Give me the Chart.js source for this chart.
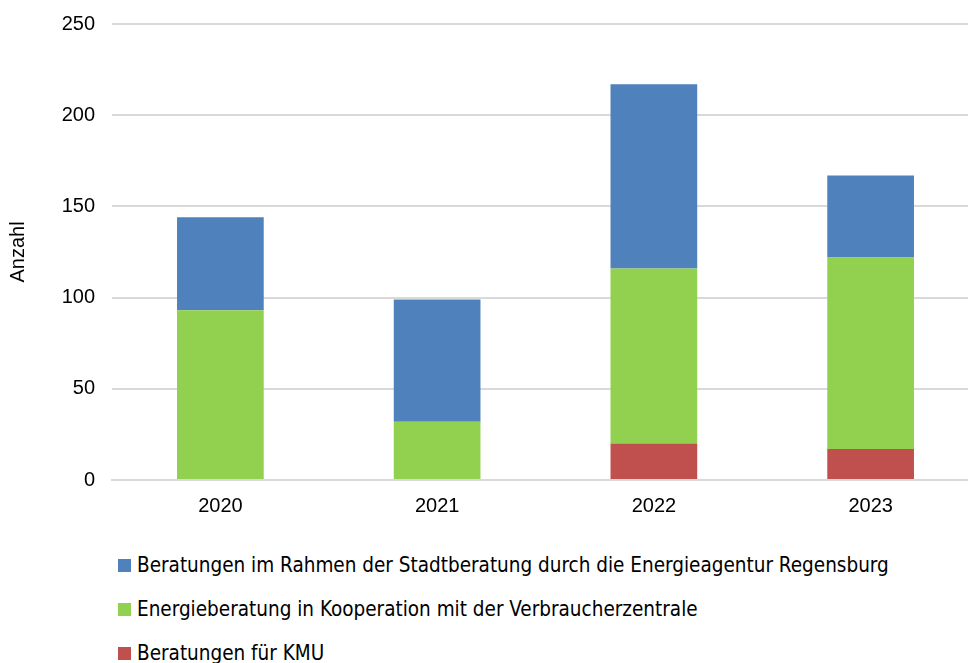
<!DOCTYPE html>
<html lang="de">
<head>
<meta charset="utf-8">
<title>Energieberatungen Regensburg</title>
<script src="https://cdn.jsdelivr.net/npm/chart.js@4/dist/chart.umd.min.js"></script>
<style>
    html, body { margin: 0; padding: 0; background: #fff; overflow: hidden; }
    .wrap { position: relative; width: 979px; height: 526px; }
    #legend { list-style: none; margin: 0; padding: 0 0 0 118px; font-family: "Liberation Sans Narrow", "DejaVu Sans Condensed", sans-serif; font-size: 20.5px; color: #000; }
    #legend li { display: flex; align-items: center; height: 44px; }
    #legend li:first-child { margin-top: 17px; }
    #legend .box { width: 13px; height: 13px; margin-right: 6px; flex: none; }
</style>
</head>
<body>
<div class="wrap"><canvas id="chart"></canvas></div>
<ul id="legend"></ul>
<script>
// categories + series
const years = ['2020', '2021', '2022', '2023'];
const stadtberatung = [51, 67, 101, 45];
const verbraucherzentrale = [93, 32, 96, 105];
const kmu = [0, 0, 20, 17];

const seriesNames = [
    'Beratungen im Rahmen der Stadtberatung durch die Energieagentur Regensburg',
    'Energieberatung in Kooperation mit der Verbraucherzentrale',
    'Beratungen für KMU'
];
const yTicks = [0, 50, 100, 150, 200, 250];

const COLORS = { blue: '#4F81BD', green: '#92D050', red: '#C0504D', grid: '#D9D9D9' };
const tickFont = { family: '"Liberation Sans", Arial, sans-serif', size: 20 };

// legend is rendered as a vertical html list, top entry = top of stack
const htmlLegend = {
    id: 'htmlLegend',
    afterUpdate(chart) {
        const ul = document.getElementById('legend');
        const items = chart.options.plugins.legend.labels.generateLabels(chart).slice().reverse();
        ul.innerHTML = items.map(it =>
            `<li><span class="box" style="background:${it.fillStyle}"></span><span>${it.text}</span></li>`
        ).join('');
    }
};

const ctx = document.getElementById('chart').getContext('2d');
new Chart(ctx, {
    type: 'bar',
    data: {
        labels: years,
        datasets: [
            { label: seriesNames[2], data: kmu, backgroundColor: COLORS.red },
            { label: seriesNames[1], data: verbraucherzentrale, backgroundColor: COLORS.green },
            { label: seriesNames[0], data: stadtberatung, backgroundColor: COLORS.blue }
        ]
    },
    options: {
        responsive: true, maintainAspectRatio: false, animation: false,
        layout: { padding: { top: 24, left: 0, right: 0, bottom: 0 } },
        datasets: { bar: { categoryPercentage: 1, barPercentage: 0.4 } },
        plugins: { legend: { display: false }, tooltip: { enabled: false } },
        scales: {
            x: {
                stacked: true,
                grid: { display: false, drawTicks: false },
                border: { color: COLORS.grid, width: 2 },
                ticks: { color: '#000', font: tickFont, padding: 14 },
                afterFit: s => { s.height = 46; }
            },
            y: {
                stacked: true, min: 0, max: 250,
                afterBuildTicks: s => { s.ticks = yTicks.map(v => ({ value: v })); },
                grid: { color: COLORS.grid, lineWidth: 2, drawTicks: false },
                border: { display: false },
                ticks: { color: '#000', font: tickFont, padding: 17 },
                title: {
                    display: true, text: 'Anzahl', color: '#000',
                    font: { family: '"Liberation Sans", Arial, sans-serif', size: 20 },
                    padding: { top: 6, bottom: 0 }
                },
                afterFit: s => { s.width = 112; s.paddingTop = 24; }
            }
        }
    },
    plugins: [htmlLegend]
});
</script>
</body>
</html>
